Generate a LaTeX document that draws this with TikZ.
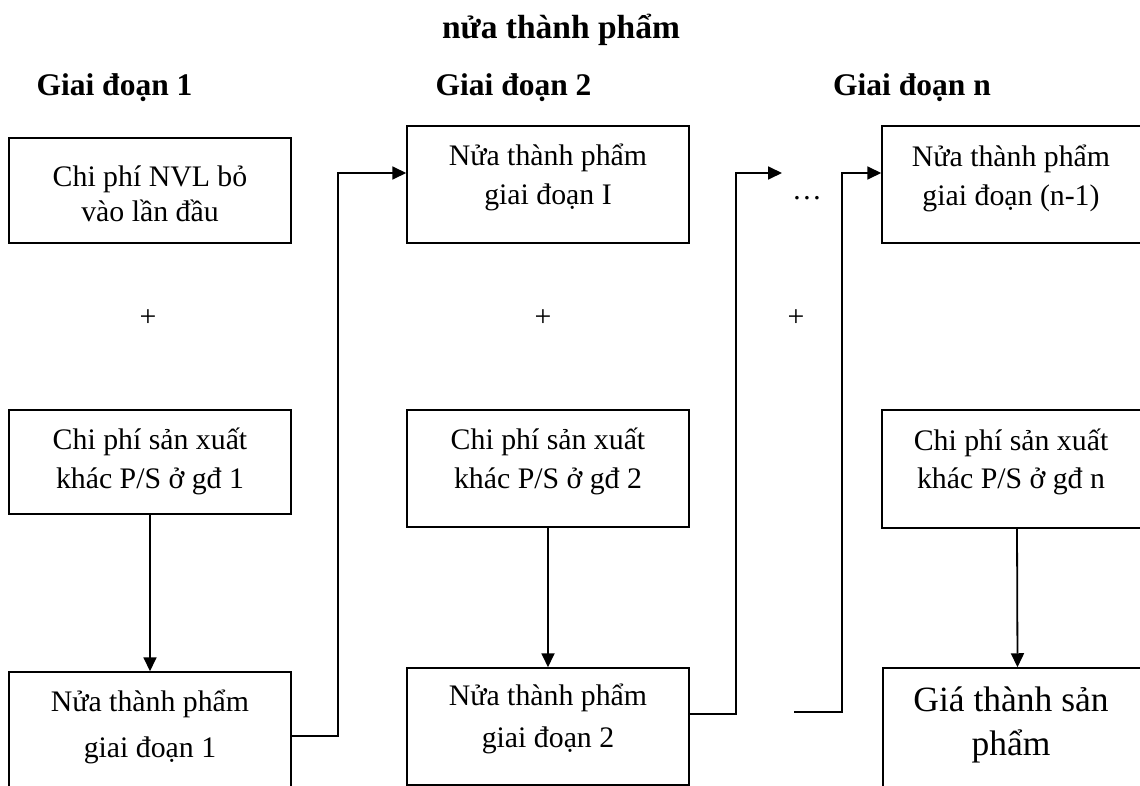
\documentclass[tikz,border=0pt]{standalone}
\usepackage{fontspec}
\setmainfont{Liberation Serif}
\usetikzlibrary{arrows.meta}
\tikzset{
  box/.style={draw, line width=1.5pt, inner sep=0pt},
  txt/.style={inner sep=0pt, font=\fontsize{29.8}{36}\selectfont, anchor=base},
  bigtxt/.style={inner sep=0pt, font=\fontsize{35.5}{44}\selectfont, anchor=base},
  head/.style={inner sep=0pt, font=\bfseries\fontsize{31.5}{38}\selectfont, anchor=base},
  ttl/.style={inner sep=0pt, font=\bfseries\fontsize{33.5}{40}\selectfont, anchor=base},
  conn/.style={line width=1.8pt},
  arr/.style={conn, -{Triangle[length=14pt,width=13pt]}},
}
\begin{document}
\begin{tikzpicture}[x=1pt,y=-1pt]
\useasboundingbox (0,0) rectangle (1140,786);
\clip (0,0) rectangle (1140,786);

% title and headings
\node[ttl]  (title) at (561,39) {nửa thành phẩm};
\node[head] (h1) at (114.5,96) {Giai đoạn 1};
\node[head] (h2) at (513.5,96) {Giai đoạn 2};
\node[head] (h3) at (912,96) {Giai đoạn n};

% boxes
\node[box, minimum width=282pt, minimum height=105pt] (A) at (150,190.5) {};
\node[box, minimum width=282pt, minimum height=117pt] (B) at (548,184.5) {};
\node[box, minimum width=262pt, minimum height=117pt] (C) at (1013,184.5) {};
\node[box, minimum width=282pt, minimum height=104pt] (D) at (150,462) {};
\node[box, minimum width=282pt, minimum height=117pt] (E) at (548,468.5) {};
\node[box, minimum width=262pt, minimum height=118pt] (F) at (1013,469) {};
\node[box, minimum width=282pt, minimum height=128pt] (G) at (150,736) {};
\node[box, minimum width=282pt, minimum height=117pt] (H) at (548,726.5) {};
\node[box, minimum width=261pt, minimum height=132pt] (I) at (1013.5,734) {};

% box texts
\node[txt] (A1) at (150,187) {Chi phí NVL bỏ};
\node[txt] (A2) at (150,222) {vào lần đầu};
\node[txt] (B1) at (548,166) {Nửa thành phẩm};
\node[txt] (B2) at (548,205) {giai đoạn I};
\node[txt] (C1) at (1011,167) {Nửa thành phẩm};
\node[txt] (C2) at (1011,206) {giai đoạn (n-1)};
\node[txt] (D1) at (150,449) {Chi phí sản xuất};
\node[txt] (D2) at (150,488) {khác P/S ở gđ 1};
\node[txt] (E1) at (548,449) {Chi phí sản xuất};
\node[txt] (E2) at (548,488) {khác P/S ở gđ 2};
\node[txt] (F1) at (1011,450) {Chi phí sản xuất};
\node[txt] (F2) at (1011,488) {khác P/S ở gđ n};
\node[txt] (G1) at (150,711) {Nửa thành phẩm};
\node[txt] (G2) at (150,757) {giai đoạn 1};
\node[txt] (H1) at (548,705) {Nửa thành phẩm};
\node[txt] (H2) at (548,747) {giai đoạn 2};
\node[bigtxt] (I1) at (1011,711) {Giá thành sản};
\node[bigtxt] (I2) at (1011,755) {phẩm};

% plus signs and dots
\node[txt, anchor=center] (p1) at (148,318) {+};
\node[txt, anchor=center] (p2) at (543,318) {+};
\node[txt, anchor=center] (p3) at (796,318) {+};
\node[txt] (dots) at (807,200) {…};

% connectors
\coordinate (dotsin) at (782,173);
\coordinate (dotsout) at (794,712);
\draw[arr] (D.south) -- (G.north);
\draw[arr] (E.south) -- (H.north);
\draw[arr] ([xshift=4pt]F.south) -- ([xshift=4pt]I.north);
\draw[arr] (G.east) -- (338,736) -- (338,173) -- ([yshift=11.5pt]B.west);
\draw[arr] ([yshift=12.5pt]H.east) -- (736,714) -- (736,173) -- (dotsin);
\draw[arr] (dotsout) -- (842,712) -- (842,173) -- ([yshift=11.5pt]C.west);
\end{tikzpicture}
\end{document}
